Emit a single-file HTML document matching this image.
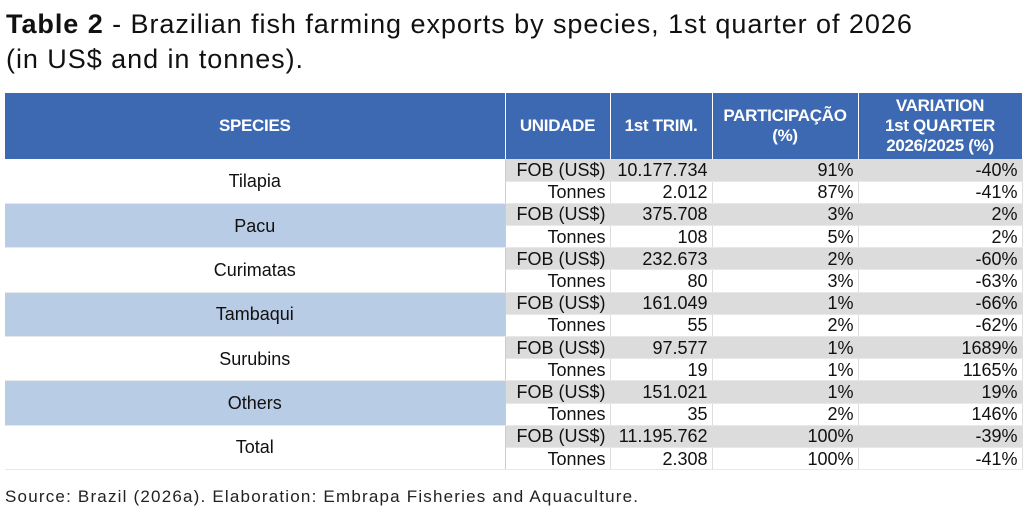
<!DOCTYPE html>
<html><head><meta charset="utf-8"><style>
body{margin:0;width:1024px;height:518px;background:#fff;font-family:"Liberation Sans",sans-serif;color:#111;position:relative;overflow:hidden}
.t{position:absolute;left:6px;top:7px;font-size:27px;line-height:35px;color:#111;letter-spacing:0.95px;white-space:nowrap}
table{position:absolute;left:5px;top:93px;border-collapse:collapse;table-layout:fixed}
th{background:#3d69b3;color:#fff;font-weight:bold;font-size:17px;line-height:20px;height:66px;padding:0;border-right:1px solid #fff;text-align:center;letter-spacing:-0.3px}
td{height:22.2px;padding:0 4px;font-size:18px;line-height:18px;text-align:right;border-right:1px solid #ddd;border-bottom:1px solid #e8e8e8;box-sizing:border-box}
td.s{text-align:center;border-right:1px solid #ccc}
tr.f td.v{background:#dcdcdc}
.b{background:#b9cce6}
.src{position:absolute;left:5px;top:487px;font-size:17px;color:#222;letter-spacing:1.2px;white-space:nowrap}
</style></head><body>
<div class="t"><b>Table 2</b> - Brazilian fish farming exports by species, 1st quarter of 2026<br>(in US$ and in tonnes).</div>
<table>
<colgroup><col style="width:500px"><col style="width:105px"><col style="width:102px"><col style="width:146px"><col style="width:164px"></colgroup>
<tr><th>SPECIES</th><th>UNIDADE</th><th>1st TRIM.</th><th>PARTICIPAÇÃO<br>(%)</th><th>VARIATION<br>1st QUARTER<br>2026/2025 (%)</th></tr>
<tr class="f"><td class="s" rowspan="2">Tilapia</td><td class="v">FOB (US$)</td><td class="v">10.177.734</td><td class="v">91%</td><td class="v">-40%</td></tr>
<tr><td>Tonnes</td><td>2.012</td><td>87%</td><td>-41%</td></tr>
<tr class="f"><td class="s b" rowspan="2">Pacu</td><td class="v">FOB (US$)</td><td class="v">375.708</td><td class="v">3%</td><td class="v">2%</td></tr>
<tr><td>Tonnes</td><td>108</td><td>5%</td><td>2%</td></tr>
<tr class="f"><td class="s" rowspan="2">Curimatas</td><td class="v">FOB (US$)</td><td class="v">232.673</td><td class="v">2%</td><td class="v">-60%</td></tr>
<tr><td>Tonnes</td><td>80</td><td>3%</td><td>-63%</td></tr>
<tr class="f"><td class="s b" rowspan="2">Tambaqui</td><td class="v">FOB (US$)</td><td class="v">161.049</td><td class="v">1%</td><td class="v">-66%</td></tr>
<tr><td>Tonnes</td><td>55</td><td>2%</td><td>-62%</td></tr>
<tr class="f"><td class="s" rowspan="2">Surubins</td><td class="v">FOB (US$)</td><td class="v">97.577</td><td class="v">1%</td><td class="v">1689%</td></tr>
<tr><td>Tonnes</td><td>19</td><td>1%</td><td>1165%</td></tr>
<tr class="f"><td class="s b" rowspan="2">Others</td><td class="v">FOB (US$)</td><td class="v">151.021</td><td class="v">1%</td><td class="v">19%</td></tr>
<tr><td>Tonnes</td><td>35</td><td>2%</td><td>146%</td></tr>
<tr class="f"><td class="s" rowspan="2">Total</td><td class="v">FOB (US$)</td><td class="v">11.195.762</td><td class="v">100%</td><td class="v">-39%</td></tr>
<tr><td>Tonnes</td><td>2.308</td><td>100%</td><td>-41%</td></tr>
</table>
<div class="src">Source: Brazil (2026a). Elaboration: Embrapa Fisheries and Aquaculture.</div>
</body></html>
